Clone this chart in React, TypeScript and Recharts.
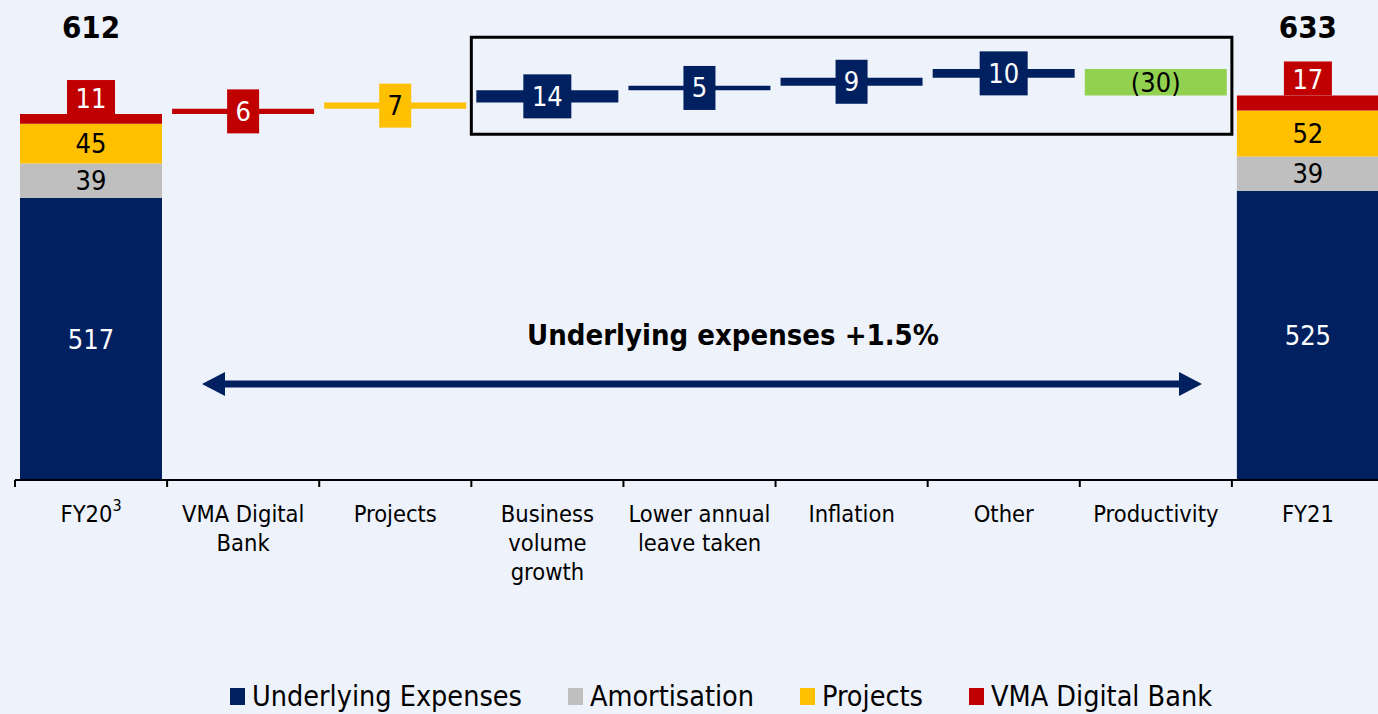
import React from "react";
import { ComposedChart, Bar, XAxis, YAxis, Cell, Legend, ReferenceArea, Customized } from "recharts";

// categories and tick labels
const categories = [
  "FY20",
  "VMA Digital Bank",
  "Projects",
  "Business volume growth",
  "Lower annual leave taken",
  "Inflation",
  "Other",
  "Productivity",
  "FY21",
];
const tickLines = [
  ["FY20"],
  ["VMA Digital", "Bank"],
  ["Projects"],
  ["Business", "volume", "growth"],
  ["Lower annual", "leave taken"],
  ["Inflation"],
  ["Other"],
  ["Productivity"],
  ["FY21"],
];
const tickFootnotes = ["3", "", "", "", "", "", "", "", ""];

// FY20 / FY21 totals, by component
const underlyingTotals = [517, 525];
const amortisationTotals = [39, 39];
const projectsTotals = [45, 52];
const vmaTotals = [11, 17];

// movements between FY20 and FY21
const changes = [6, 7, 14, 5, 9, 10, -30];
const changeSeries = ["vma", "projects", "underlying", "underlying", "underlying", "underlying", "productivity"];

const legendOrder = ["Underlying Expenses", "Amortisation", "Projects", "VMA Digital Bank"];

const NAVY = "#002060";
const GREY = "#BFBFBF";
const YELLOW = "#FFC000";
const RED = "#C00000";
const GREEN = "#92D050";
const BG = "#EEF2FA";
const FONT = '"DejaVu Sans Condensed", "DejaVu Sans", sans-serif';

const WIDTH = 1384;
const HEIGHT = 714;
const LEFT = 15;
const PLOT_BOTTOM = 480;
const LEGEND_H = 36;
const BAND = (WIDTH - LEFT) / categories.length;
const TOTAL_Y = 27;

const seriesColor: Record<string, string> = {
  underlying: NAVY,
  projects: YELLOW,
  vma: RED,
  productivity: GREEN,
};

const totalRow = (i: number, name: string) => ({
  name,
  base: 0,
  underlying: underlyingTotals[i],
  amortisation: amortisationTotals[i],
  projects: projectsTotals[i],
  vma: vmaTotals[i],
  step: 0,
  change: 0,
  series: "",
  total: underlyingTotals[i] + amortisationTotals[i] + projectsTotals[i] + vmaTotals[i],
});

const rows: any[] = [totalRow(0, categories[0])];
let running = rows[0].total;
changes.forEach((c, i) => {
  rows.push({
    name: categories[i + 1],
    base: Math.min(running, running + c),
    underlying: 0,
    amortisation: 0,
    projects: 0,
    vma: 0,
    step: Math.abs(c),
    change: c,
    series: changeSeries[i],
    total: 0,
  });
  running += c;
});
rows.push(totalRow(1, categories[categories.length - 1]));

// find the row a label belongs to from its position on the band axis
const rowAt = (x: number, width: number) => {
  const i = Math.floor((x + width / 2 - LEFT) / BAND);
  return rows[Math.max(0, Math.min(rows.length - 1, i))];
};

const insideLabel = (key: string, color: string) => (props: any) => {
  const { x, y, width, height } = props;
  const row = rowAt(x, width);
  const value = row[key];
  if (!value) return null;
  const bottom = Math.min(y + height, PLOT_BOTTOM);
  return (
    <text
      x={x + width / 2}
      y={(y + bottom) / 2}
      textAnchor="middle"
      dominantBaseline="central"
      fill={color}
      fontSize={27}
      fontFamily={FONT}
    >
      {value}
    </text>
  );
};

const vmaLabel = (props: any) => {
  const { x, y, width } = props;
  const row = rowAt(x, width);
  if (!row.vma) return null;
  const cx = x + width / 2;
  return (
    <g>
      <rect x={cx - 24} y={y - 34} width={48} height={34} fill={RED} />
      <text x={cx} y={y - 16} textAnchor="middle" dominantBaseline="central" fill="#fff" fontSize={27} fontFamily={FONT}>
        {row.vma}
      </text>
      <text x={cx} y={TOTAL_Y} textAnchor="middle" dominantBaseline="central" fill="#000" fontSize={31} fontWeight="bold" fontFamily={FONT}>
        {row.total}
      </text>
    </g>
  );
};

const stepLabel = (props: any) => {
  const { x, y, width, height } = props;
  const row = rowAt(x, width);
  if (!row.change) return null;
  const cx = x + width / 2;
  const cy = y + height / 2;
  const txt = row.change < 0 ? `(${Math.abs(row.change)})` : String(row.change);
  if (row.series === "productivity") {
    return (
      <text x={cx} y={cy} textAnchor="middle" dominantBaseline="central" fill="#000" fontSize={27} fontFamily={FONT}>
        {txt}
      </text>
    );
  }
  const w = txt.length > 1 ? 48 : 32;
  return (
    <g>
      <rect x={cx - w / 2} y={cy - 22} width={w} height={44} fill={seriesColor[row.series]} />
      <text
        x={cx}
        y={cy}
        textAnchor="middle"
        dominantBaseline="central"
        fill={row.series === "projects" ? "#000" : "#fff"}
        fontSize={27}
        fontFamily={FONT}
      >
        {txt}
      </text>
    </g>
  );
};

const CategoryTick = (props: any) => {
  const { x, index } = props;
  const lines = tickLines[index] || [];
  const half = BAND / 2;
  return (
    <g>
      <line x1={x - half} x2={x - half} y1={PLOT_BOTTOM} y2={PLOT_BOTTOM + 7} stroke="#000" strokeWidth={2} />
      {index === categories.length - 1 && (
        <line x1={x + half} x2={x + half} y1={PLOT_BOTTOM} y2={PLOT_BOTTOM + 7} stroke="#000" strokeWidth={2} />
      )}
      {lines.map((ln, i) => (
        <text key={i} x={x} y={PLOT_BOTTOM + 42 + i * 29} textAnchor="middle" fill="#000" fontSize={23.5} fontFamily={FONT}>
          {ln}
          {i === 0 && tickFootnotes[index] ? (
            <tspan dy={-11} fontSize={16}>
              {tickFootnotes[index]}
            </tspan>
          ) : null}
        </text>
      ))}
    </g>
  );
};

const Annotation = () => (
  <g>
    <text x={733} y={345} textAnchor="middle" fill="#000" fontSize={29} fontWeight="bold" fontFamily={FONT}>
      Underlying expenses +1.5%
    </text>
    <line x1={220} x2={1184} y1={384} y2={384} stroke={NAVY} strokeWidth={7} />
    <polygon points="202,384 225,372 225,396" fill={NAVY} />
    <polygon points="1202,384 1179,372 1179,396" fill={NAVY} />
  </g>
);

const renderLegend = (props: any) => {
  const items = (props.payload || [])
    .filter((p: any) => legendOrder.includes(p.value))
    .sort((a: any, b: any) => legendOrder.indexOf(a.value) - legendOrder.indexOf(b.value));
  return (
    <div
      style={{
        display: "flex",
        alignItems: "center",
        height: LEGEND_H,
        paddingLeft: 230,
        fontFamily: FONT,
        fontSize: 28.5,
        color: "#000",
        whiteSpace: "nowrap",
      }}
    >
      {items.map((p: any) => (
        <span key={p.value} style={{ display: "flex", alignItems: "center", marginRight: 46 }}>
          <span style={{ display: "inline-block", width: 15, height: 17, background: p.color, marginRight: 7 }} />
          {p.value}
        </span>
      ))}
    </div>
  );
};

export default function App() {
  return (
    <div
      style={{
        position: "absolute",
        left: 0,
        top: 0,
        width: 1378,
        height: HEIGHT,
        overflow: "hidden",
        background: BG,
      }}
    >
      <ComposedChart
        width={WIDTH}
        height={HEIGHT}
        data={rows}
        margin={{ top: 0, right: 0, bottom: 0, left: LEFT }}
        barSize={142}
      >
        <XAxis
          dataKey="name"
          interval={0}
          tickLine={false}
          axisLine={{ stroke: "#000", strokeWidth: 2 }}
          height={HEIGHT - PLOT_BOTTOM - LEGEND_H}
          tick={<CategoryTick />}
        />
        <YAxis hide type="number" domain={[198, 741]} allowDataOverflow />
        <ReferenceArea
          x1="Business volume growth"
          x2="Productivity"
          y1={589}
          y2={699}
          fill="none"
          stroke="#000"
          strokeWidth={3}
          fillOpacity={0}
        />
        <Bar dataKey="base" stackId="s" fill="transparent" legendType="none" isAnimationActive={false} />
        <Bar
          dataKey="underlying"
          name="Underlying Expenses"
          stackId="s"
          fill={NAVY}
          isAnimationActive={false}
          label={insideLabel("underlying", "#fff")}
        />
        <Bar
          dataKey="amortisation"
          name="Amortisation"
          stackId="s"
          fill={GREY}
          isAnimationActive={false}
          label={insideLabel("amortisation", "#000")}
        />
        <Bar
          dataKey="projects"
          name="Projects"
          stackId="s"
          fill={YELLOW}
          isAnimationActive={false}
          label={insideLabel("projects", "#000")}
        />
        <Bar
          dataKey="vma"
          name="VMA Digital Bank"
          stackId="s"
          fill={RED}
          isAnimationActive={false}
          label={vmaLabel}
        />
        <Bar dataKey="step" stackId="s" fill={NAVY} legendType="none" isAnimationActive={false} label={stepLabel}>
          {rows.map((r, i) => (
            <Cell key={i} fill={seriesColor[r.series] || NAVY} />
          ))}
        </Bar>
        <Legend verticalAlign="bottom" content={renderLegend} wrapperStyle={{ left: 0, width: WIDTH }} />
        <Customized component={Annotation} />
      </ComposedChart>
    </div>
  );
}
